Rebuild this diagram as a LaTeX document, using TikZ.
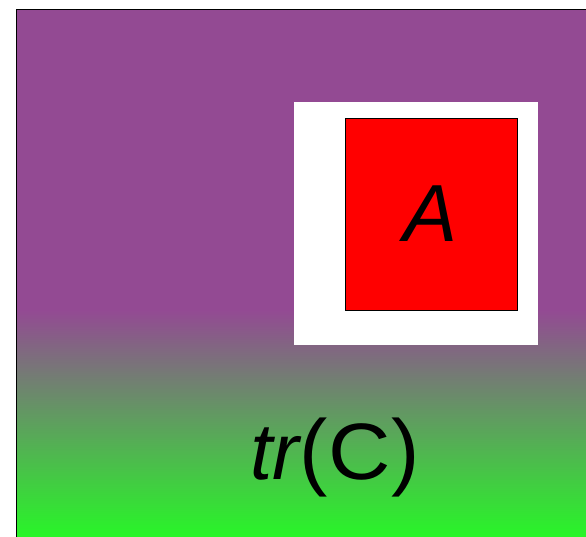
\documentclass[tikz,border=0pt]{standalone}
\usepackage{fontspec}
\setmainfont{Liberation Sans}
\definecolor{TraceViolet}{RGB}{147,74,147}
\definecolor{TraceGreen}{RGB}{40,246,40}
\definecolor{BlockRed}{HTML}{FF0000}
\begin{document}
\begin{tikzpicture}[x=1pt,y=-1pt]
  \useasboundingbox (0,0) rectangle (586,537);
  % background region with the fade to green
  \fill[TraceViolet] (16,9) rectangle (586,311);
  \shade[top color=TraceViolet, bottom color=TraceGreen] (16,310) rectangle (586,537);
  \draw[black, line width=1.2pt] (16.6,537) -- (16.6,9.6) -- (586,9.6);
  % white margin and the red block
  \fill[white] (294,102) rectangle (538,345);
  \draw[black, line width=0.8pt, fill=BlockRed] (345.5,118.5) rectangle (517,310.5);
  \node[anchor=base, inner sep=0pt, font=\fontsize{81}{90}\selectfont\itshape] (blockA) at (431,242) {A};
  \node[anchor=base west, inner sep=0pt] (traceC) at (250,479)
    {\fontsize{80}{90}\selectfont\itshape tr\upshape\fontsize{85}{90}\selectfont(\kern1pt\fontsize{80}{90}\selectfont\scalebox{1.08}[1]{C}\kern1pt\fontsize{85}{90}\selectfont)};
\end{tikzpicture}
\end{document}
